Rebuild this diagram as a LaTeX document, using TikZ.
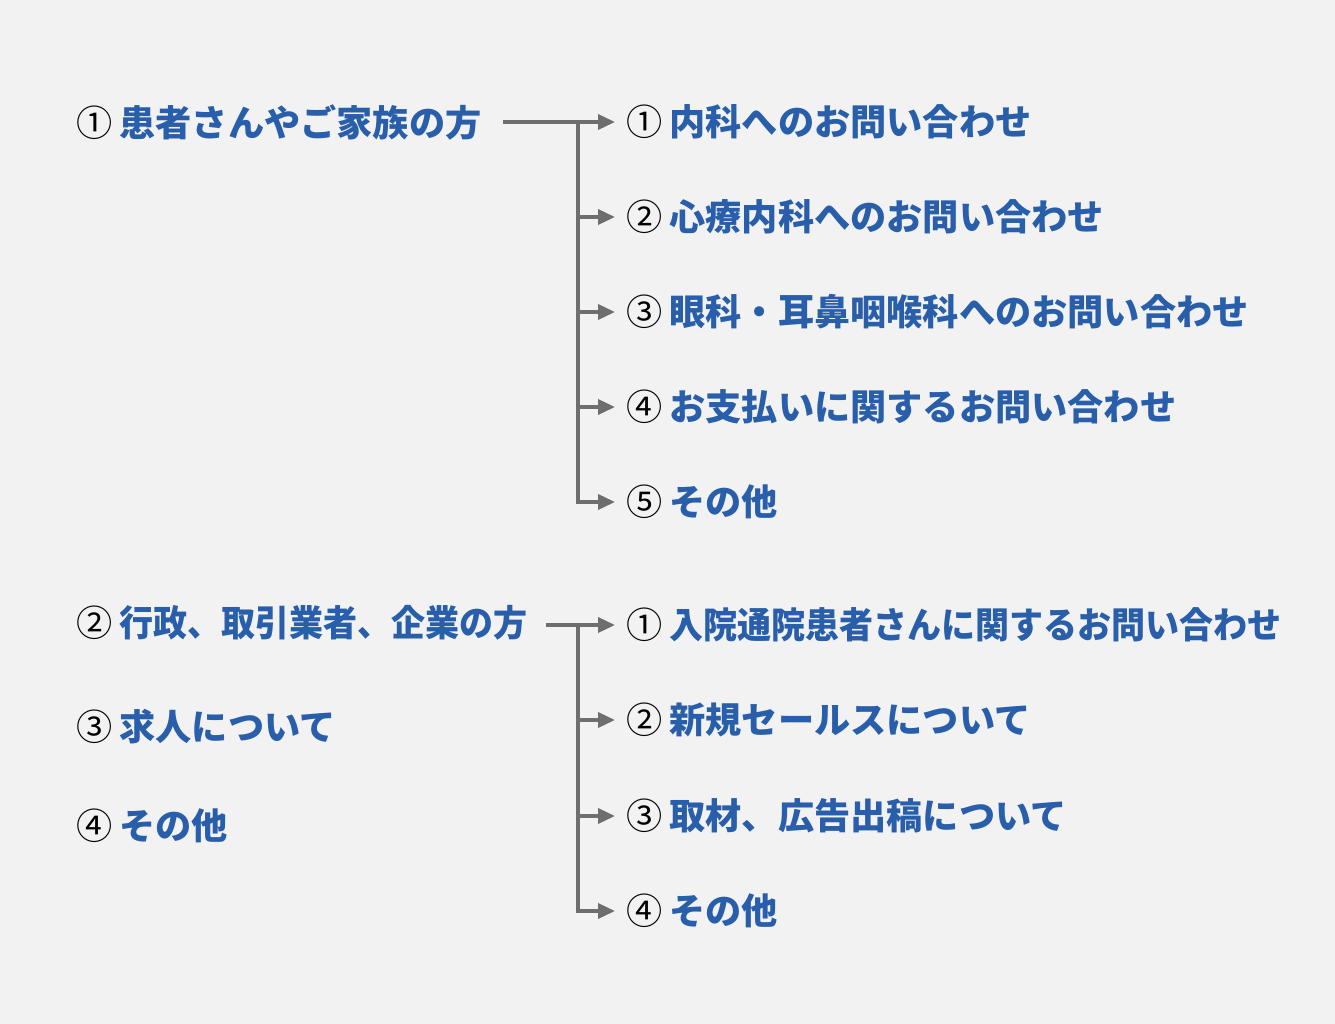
\documentclass[tikz,border=0pt]{standalone}
\usepackage{fontspec}
\usepackage{xcolor}
\newfontfamily\jp{Noto Sans CJK JP}
\definecolor{itemblue}{RGB}{40,94,170}
\definecolor{linegray}{RGB}{110,110,110}
\definecolor{paper}{RGB}{242,242,242}
\usetikzlibrary{
  arrows.meta
}
\newcommand{\cnum}[1]{{\color{black}\mdseries #1}\hspace{4pt}}
\tikzset{
  item/.style={anchor=west, inner sep=0pt, text=itemblue,
    font={\jp\bfseries\fontsize{20.6pt}{24pt}\selectfont}},
  link/.style={draw=linegray, line width=2pt},
  arr/.style={link, -{Triangle[length=0.34cm,width=0.3cm]}, shorten >=0.22cm}
}

\begin{document}
\begin{tikzpicture}[x=0.02cm, y=-0.02cm]
  \def\Xq{76};
  \def\Xa{626};
  \def\Xj{578};
  \fill[paper] (0,0) rectangle (1335,1024);  % background

         % left column
         \node[item] (q1) at (\Xq, 122) {\cnum{①}患者さんやご家族の方};
         \node[item] (q2) at (\Xq, 623) {\cnum{②}\scalebox{0.94}[1]{行政、取引業者、企業の方}};
         \node[item] (q3) at (\Xq, 727) {\cnum{③}求人について};
         \node[item] (q4) at (\Xq, 826) {\cnum{④}その他};

         % right column, first group
         \node[item] (a1) at (\Xa, 122) {\cnum{①}内科へのお問い合わせ};
         \node[item] (a2) at (\Xa, 217) {\cnum{②}心療内科へのお問い合わせ};
         \node[item] (a3) at (\Xa, 312) {\cnum{③}眼科・耳鼻咽喉科へのお問い合わせ};
         \node[item] (a4) at (\Xa, 407) {\cnum{④}お支払いに関するお問い合わせ};
         \node[item] (a5) at (\Xa, 502) {\cnum{⑤}その他};

         % right column, second group
         \node[item] (b1) at (\Xa, 625) {\cnum{①}\scalebox{0.94}[1]{入院通院患者さんに関するお問い合わせ}};
         \node[item] (b2) at (\Xa, 720) {\cnum{②}新規セールスについて};
         \node[item] (b3) at (\Xa, 816) {\cnum{③}取材、広告出稿について};
         \node[item] (b4) at (\Xa, 911) {\cnum{④}その他};

  \coordinate (j1) at (\Xj, 122);
  \coordinate (j2) at (\Xj, 625);

	\draw[arr, shorten <=0.42cm] (q1.east) -- (j1) -- (a1.west);  % q1 -> a1
	\draw[arr] (j1) |- (a5.west);                                 % trunk -> a5
	\foreach \k in {2,3,4}
	  \draw[arr] (j1 |- a\k.west) -- (a\k.west);

	\draw[arr, shorten <=0.36cm] (q2.east |- j2) -- (j2) -- (b1.west);  % q2 -> b1
	\draw[arr] (j2) |- (b4.west);                                      % trunk -> b4
	\foreach \k in {2,3}
	  \draw[arr] (j2 |- b\k.west) -- (b\k.west);

\end{tikzpicture}
\end{document}
